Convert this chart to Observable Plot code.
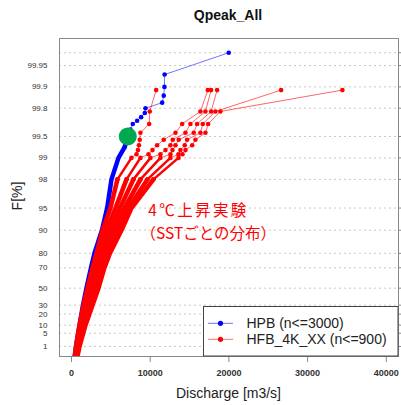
<!DOCTYPE html>
<html><head><meta charset="utf-8">
<script src="https://cdn.jsdelivr.net/npm/d3@7"></script>
<script src="https://cdn.jsdelivr.net/npm/@observablehq/plot@0.6"></script>
<style>body{margin:0;background:#fff}#chart{width:401px;height:405px}</style>
</head><body><div id="chart"></div>
<script>
// ---- data ----
const yTickLabels = ["1","5","10","20","30","50","70","80","90","95","98","99","99.5","99.8","99.9","99.95"];
const gridF = [1,5,10,20,30,50,70,80,90,95,98,99,99.5,99.8,99.9,99.95,99.967];
const xTicks = [0,10000,20000,30000,40000];

// HPB (blue), non-exceedance probability F[%] and discharge [m3/s]
const hpbF = [0.05,1,10,30,50,70,80,90,95,98,99,99.3,99.5,99.6,99.667,99.7,99.733,99.767,99.8,99.833,99.867,99.9,99.933,99.967];
const hpbQ = [320,570,1020,1460,1900,2480,2920,3870,4530,5080,5970,6770,7110,7490,7790,8340,8850,9310,9400,11520,11720,11810,11830,19980];

// HFB_4K_XX (red): six SST patterns
const redF = [0.111,1,10,30,50,70,80,90,95,98,99,99.112,99.223,99.334,99.445,99.556,99.667,99.778,99.889];
const redNames = ["SST1","SST2","SST3","SST4","SST5","SST6"];
const redQ1 = [380,570,1020,1520,2030,2670,3180,3940,4950,5840,7620,8260,8450,8570,8670,8760,9870,9940,10760];
const redQ2 = [440,640,1140,1710,2290,2980,3490,4450,5590,6990,8760,9780,10290,10880,11720,13210,14060,16380,17320];
const redQ3 = [510,760,1330,1970,2600,3300,3870,4950,6160,7870,10030,11300,11940,12570,12870,14480,15110,17020,17740];
const redQ4 = [570,830,1460,2160,2860,3620,4250,5460,6730,8760,11300,12570,12830,13210,13630,15530,15960,17740,18500];
const redQ5 = [640,950,1650,2410,3180,3940,4570,5910,7240,9650,12570,13590,13840,14390,14690,16380,16680,18290,26630];
const redQ6 = [700,1020,1780,2670,3430,4190,4890,6350,7620,10410,13590,14100,14480,15330,15750,17020,17360,18920,34420];
const redQ = [redQ1,redQ2,redQ3,redQ4,redQ5,redQ6];

const marker = {Q: 7150, F: 99.5};
const noteLines = ["4℃上昇実験", "（SSTごとの分布）"];

// ---- build ----
const gumbel = F => -Math.log(-Math.log(F / 100));
const hpb = hpbQ.map((q, i) => ({q, F: hpbF[i], g: gumbel(hpbF[i])}));
const red = redQ.flatMap((arr, s) => arr.map((q, i) => ({s: redNames[s], q, F: redF[i], g: gumbel(redF[i])})));

const RED = "#ff0000", BLUE = "#0000ff";
const FONT = "Liberation Sans, Arial, Helvetica, sans-serif";
const JP = "Noto Sans CJK JP";

const plot = Plot.plot({
  width: 401, height: 405,
  marginLeft: 59, marginRight: 3, marginTop: 38, marginBottom: 49,
  style: {fontFamily: FONT, background: "#fff"},
  x: {domain: [-1525, 41550]},
  y: {domain: [-1.853, 8.479]},
  marks: [
    Plot.ruleY(gridF.map(gumbel), {stroke: "#c8c8c8", strokeDasharray: "2,3", strokeWidth: 1}),
    Plot.axisX({ticks: xTicks, tickSize: 6, tickPadding: 7, stroke: "#888", fill: "#333", fontSize: 9, fontWeight: "bold", label: null, tickFormat: d => String(d)}),
    Plot.axisY({anchor: "right", ticks: gridF.map(gumbel), tickSize: 5, stroke: "#888", tickFormat: () => "", label: null}),
    Plot.text(yTickLabels, {y: d => gumbel(+d), text: d => d, frameAnchor: "left", dx: -12, textAnchor: "end", fontSize: 8, fill: "#333"}),
    // HPB
    Plot.line(hpb.filter(d => d.F <= 99.5), {x: "q", y: "g", stroke: BLUE, strokeWidth: 4.5, strokeLinecap: "round", clip: true}),
    Plot.line(hpb.filter(d => d.F >= 99.5), {x: "q", y: "g", stroke: BLUE, strokeOpacity: 0.55, strokeWidth: 1, clip: true}),
    Plot.dot(hpb.filter(d => d.F >= 99.3), {x: "q", y: "g", r: 2.3, fill: BLUE, clip: true}),
    // HFB
    Plot.line(red.filter(d => d.F <= 98), {x: "q", y: "g", z: "s", stroke: RED, strokeWidth: 4.5, strokeLinecap: "round", clip: true}),
    Plot.line(red.filter(d => d.F >= 98 && d.F <= 99), {x: "q", y: "g", z: "s", stroke: RED, strokeWidth: 2.5, strokeLinecap: "round", clip: true}),
    Plot.line(red.filter(d => d.F >= 99), {x: "q", y: "g", z: "s", stroke: RED, strokeOpacity: 0.6, strokeWidth: 1, clip: true}),
    Plot.dot(red.filter(d => d.F >= 98), {x: "q", y: "g", r: 2.3, fill: RED, clip: true}),
    // marker
    Plot.dot([marker], {x: "Q", y: d => gumbel(d.F), r: 9, fill: "#00a850"}),
    // annotation
    Plot.text([noteLines[0]], {x: () => 9750, y: () => 2.86, text: d => d, textAnchor: "start", fontSize: 15.5, fill: RED, fontFamily: JP}),
    Plot.text([noteLines[1]], {x: () => 8770, y: () => 2.13, text: d => d, textAnchor: "start", fontSize: 15.5, fill: RED, fontFamily: JP}),
    Plot.frame({stroke: "#888"})
  ]
});
document.getElementById("chart").appendChild(plot);

const svg = d3.select(plot);
// widen first annotation line as in the reference
svg.selectAll("text").filter(function() { return this.textContent === noteLines[0]; })
  .attr("letter-spacing", "2.4px");

// titles and legend
svg.append("text").attr("x", 228).attr("y", 20).attr("text-anchor", "middle")
  .attr("font-family", FONT).attr("font-size", 14).attr("font-weight", "bold").attr("fill", "#111").text("Qpeak_All");
svg.append("text").attr("x", 228.5).attr("y", 398).attr("text-anchor", "middle")
  .attr("font-family", FONT).attr("font-size", 14).attr("fill", "#222").text("Discharge [m3/s]");
svg.append("text").attr("transform", "translate(22,196) rotate(-90)").attr("text-anchor", "middle")
  .attr("font-family", FONT).attr("font-size", 14).attr("fill", "#222").text("F[%]");

const legendItems = [
  {label: "HPB (n<=3000)", color: BLUE, line: "#7070ff"},
  {label: "HFB_4K_XX (n<=900)", color: RED, line: "#ff7070"}
];
const lg = svg.append("g");
lg.append("rect").attr("x", 203.5).attr("y", 306.5).attr("width", 194.5).attr("height", 49.5)
  .attr("fill", "#fff").attr("stroke", "#444");
legendItems.forEach((it, i) => {
  const y = 323.3 + i * 16;
  lg.append("line").attr("x1", 208).attr("x2", 233).attr("y1", y).attr("y2", y).attr("stroke", it.line).attr("stroke-width", 1);
  lg.append("circle").attr("cx", 220.5).attr("cy", y).attr("r", 2.6).attr("fill", it.color);
  lg.append("text").attr("x", 246.5).attr("y", y).attr("dy", "0.35em").attr("text-anchor", "start").attr("font-family", FONT)
    .attr("font-size", 14).attr("fill", "#222").text(it.label);
});
</script></body></html>
